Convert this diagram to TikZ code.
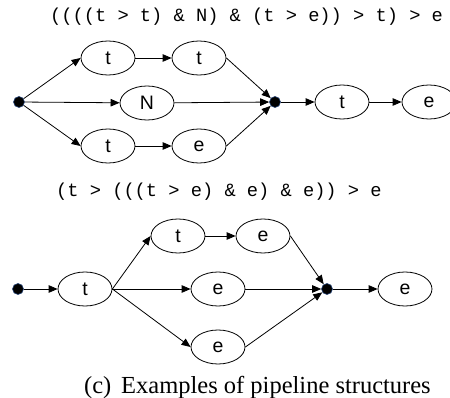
\documentclass[tikz,border=0pt]{standalone}
\usepackage{fontspec}
\setmainfont{Liberation Serif}
\setsansfont{Liberation Sans}
\setmonofont{Liberation Mono}
\usetikzlibrary{shapes.geometric,arrows.meta}
\tikzset{
  op/.style={draw=black, ellipse, line width=0.8pt, minimum width=54pt, minimum height=34pt, inner sep=0pt, font=\sffamily\fontsize{19.5}{19.5}\selectfont},
  dot/.style={circle, fill=black, draw={rgb,255:red,40;green,70;blue,120}, line width=0.6pt, minimum size=11pt, inner sep=0pt},
  conn/.style={line width=0.8pt, -{Triangle[length=9pt,width=7.5pt]}},
  expr/.style={anchor=base west, inner sep=0pt, font=\ttfamily\fontsize{18.7}{19}\selectfont},
}
\begin{document}
\begin{tikzpicture}[x=1pt,y=-1pt]
\useasboundingbox (0,0) rectangle (450,398);
% top expression
\node[expr] (ex1) at (50,22) {((((t > t) \& N) \& (t > e)) > t) > e};
% top graph
\node[dot] (d1) at (19,102) {};
\node[op] (a1) at (108,58) {t};
\node[op] (a2) at (199,58) {t};
\node[op] (aN) at (147,103) {N};
\node[op] (a3) at (108,146) {t};
\node[op] (a4) at (199,146) {e};
\node[dot] (d2) at (275,102) {};
\node[op] (a5) at (342,102) {t};
\node[op] (a6) at (429,102) {e};
\draw[conn] (d1) -- (a1.west);
\draw[conn] (d1) -- (aN);
\draw[conn] (d1) -- (a3.west);
\draw[conn] (a1) -- (a2);
\draw[conn] (a3) -- (a4);
\draw[conn] (a2.east) -- (d2);
\draw[conn] (aN) -- (d2);
\draw[conn] (a4.east) -- (d2);
\draw[conn] (d2) -- (a5);
\draw[conn] (a5) -- (a6);
% bottom expression
\node[expr] (ex2) at (56,197) {(t > (((t > e) \& e) \& e)) > e};
% bottom graph
\node[dot] (d3) at (18,289) {};
\node[op] (b1) at (85,289) {t};
\node[op] (b2) at (178,236) {t};
\node[op] (b3) at (263,236) {e};
\node[op] (b4) at (218,289) {e};
\node[op] (b5) at (218,347) {e};
\node[dot] (d4) at (327,289) {};
\node[op] (b6) at (405,289) {e};
\draw[conn] (d3) -- (b1);
\draw[conn] (b1.east) -- (b2.west);
\draw[conn] (b1.east) -- (b4);
\draw[conn] (b1.east) -- (b5.west);
\draw[conn] (b2) -- (b3);
\draw[conn] (b3.east) -- (d4);
\draw[conn] (b4) -- (d4);
\draw[conn] (b5.east) -- (d4);
\draw[conn] (d4) -- (b6);
% caption
\node[anchor=base west, inner sep=0pt, font=\fontsize{24.5}{26}\selectfont] (cap) at (84,393) {(c)\hspace{0.4em}Examples of pipeline structures};
\end{tikzpicture}
\end{document}
